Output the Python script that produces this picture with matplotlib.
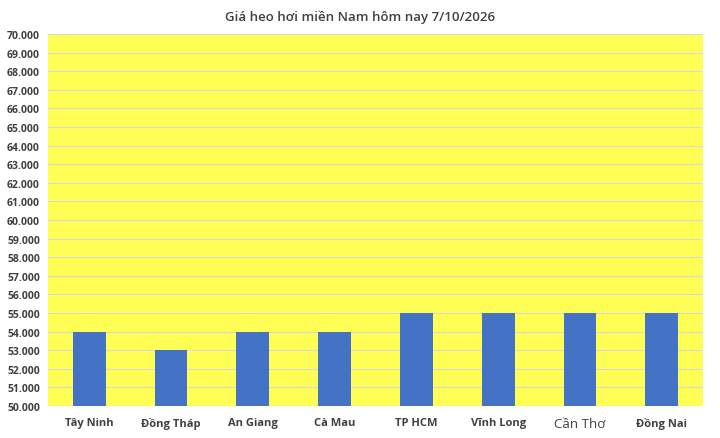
import matplotlib
matplotlib.use('Agg')
import matplotlib.pyplot as plt
from matplotlib.ticker import FuncFormatter

provinces = ['Tây Ninh', 'Đồng Tháp', 'An Giang', 'Cà Mau', 'TP HCM', 'Vĩnh Long', 'Cần Thơ', 'Đồng Nai']
prices = [54000, 53000, 54000, 54000, 55000, 55000, 55000, 55000]

plt.rcParams['font.family'] = ['Open Sans', 'DejaVu Sans']

fig = plt.figure(figsize=(7.2, 4.39), dpi=100)
ax = fig.add_axes([0.067, 0.073, 0.909, 0.847])
ax.set_facecolor('#FFFF55')

ax.bar(range(len(provinces)), prices, width=0.4, color='#4472C4', zorder=3)

ax.set_ylim(50000, 70000)
ax.set_xlim(-0.5, len(provinces) - 0.5)
ax.set_yticks(range(50000, 70001, 1000))
ax.yaxis.set_major_formatter(FuncFormatter(lambda v, p: '{:,.0f}'.format(v).replace(',', '.')))
ax.grid(axis='y', color='#D9D9D9', linewidth=0.8, zorder=1)

ax.set_xticks(range(len(provinces)))
ax.set_xticklabels(provinces)
for lbl in ax.get_xticklabels():
    lbl.set_fontweight('bold')
    lbl.set_fontsize(8)
    lbl.set_color('#404040')
    if lbl.get_text() == 'Cần Thơ':
        lbl.set_fontweight('normal')
        lbl.set_fontsize(9.5)
for lbl in ax.get_yticklabels():
    lbl.set_fontweight('bold')
    lbl.set_fontsize(7.5)
    lbl.set_color('#404040')

ax.tick_params(axis='both', length=0)
ax.tick_params(axis='x', pad=8)
ax.tick_params(axis='y', pad=6)
for s in ax.spines.values():
    s.set_visible(False)

fig.suptitle('Giá heo hơi miền Nam hôm nay 7/10/2026', x=0.5, y=0.975,
             fontsize=9.5, color='#404040', fontweight='semibold')

fig.savefig('out.png', dpi=100)
